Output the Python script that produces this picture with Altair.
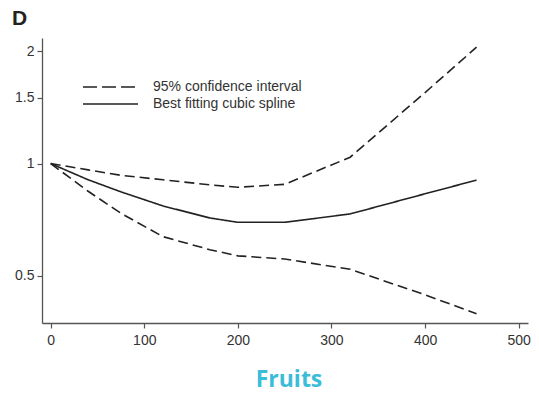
import altair as alt
import pandas as pd

# Spline estimate and its 95% confidence band (relative risk vs. grams of fruit per day)
x_vals = [0, 40, 75, 120, 170, 200, 250, 320, 400, 455]
fit_vals = [1.0, 0.905, 0.84, 0.77, 0.715, 0.696, 0.696, 0.733, 0.83, 0.903]
upper_vals = [1.0, 0.962, 0.93, 0.905, 0.877, 0.864, 0.88, 1.04, 1.55, 2.05]
lower_vals = [1.0, 0.843, 0.736, 0.637, 0.588, 0.566, 0.555, 0.521, 0.445, 0.396]

x_ticks = [0, 100, 200, 300, 400, 500]
y_ticks = [0.5, 1, 1.5, 2]

legend_labels = ["95% confidence interval", "Best fitting cubic spline"]
panel_letter = "D"
caption = "Fruits"

rows = []
for name, kind, vals in [("upper", "ci", upper_vals), ("fit", "fit", fit_vals), ("lower", "ci", lower_vals)]:
    for xv, yv in zip(x_vals, vals):
        rows.append({"x": xv, "y": yv, "curve": name, "kind": kind})
df = pd.DataFrame(rows)

W, H = 486, 285
FONT = "Liberation Sans"
INK = "#222222"
AXIS = "#555555"

lines = alt.Chart(df).mark_line(strokeWidth=1.6, color=INK, interpolate="linear").encode(
    x=alt.X("x:Q",
            scale=alt.Scale(domain=[-9.3, 510], nice=False, zero=False),
            axis=alt.Axis(values=x_ticks, title=None, grid=False, tickSize=5,
                          labelPadding=5, domainColor=AXIS, tickColor=AXIS,
                          domainWidth=1.3, tickWidth=1.2, labelFont=FONT,
                          labelFontSize=14, labelColor="#333333")),
    y=alt.Y("y:Q",
            scale=alt.Scale(type="log", domain=[0.374, 2.17], nice=False),
            axis=alt.Axis(values=y_ticks, format=".1~f", title=None, grid=False,
                          tickSize=5, labelPadding=3, domainColor=AXIS, tickColor=AXIS,
                          domainWidth=1.3, tickWidth=1.2, labelFont=FONT,
                          labelFontSize=14, labelColor="#333333")),
    detail="curve:N",
    strokeDash=alt.StrokeDash("kind:N",
                              scale=alt.Scale(domain=["ci", "fit"], range=[[10, 5], [1, 0]]),
                              legend=None),
)

# Hand-placed key in the upper-left corner of the plot
key_dash = alt.Chart(pd.DataFrame({"a": [0]})).mark_rule(
    color=INK, strokeWidth=1.6, strokeDash=[14, 5]
).encode(x=alt.value(41), x2=alt.value(96), y=alt.value(49))
key_solid = alt.Chart(pd.DataFrame({"a": [0]})).mark_rule(
    color=INK, strokeWidth=1.6
).encode(x=alt.value(41), x2=alt.value(96), y=alt.value(66))

key_text = alt.Chart(pd.DataFrame({"label": legend_labels, "py": [49, 66]})).mark_text(
    align="left", baseline="middle", font=FONT, fontSize=14, color="#333333"
).encode(x=alt.value(111), y=alt.Y("py:Q", scale=None), text="label:N")

letter = alt.Chart(pd.DataFrame({"t": [panel_letter]})).mark_text(
    align="left", baseline="alphabetic", font=FONT, fontSize=21, fontWeight="bold", color="#222222"
).encode(x=alt.value(-30), y=alt.value(-13), text="t:N")

cap = alt.Chart(pd.DataFrame({"t": [caption]})).mark_text(
    align="center", baseline="middle", font="Open Sans", fontSize=23, fontWeight="bold", color="#3bbcd9"
).encode(x=alt.value(247), y=alt.value(342), text="t:N")

chart = alt.layer(lines, key_dash, key_solid, key_text, letter, cap).properties(
    width=W, height=H,
    autosize=alt.AutoSizeParams(type="none"),
    padding={"left": 42, "top": 38, "right": 11, "bottom": 70},
    background="white",
).configure_view(stroke=None)

chart.save("out.html", embed_options={"renderer": "svg", "actions": False})
